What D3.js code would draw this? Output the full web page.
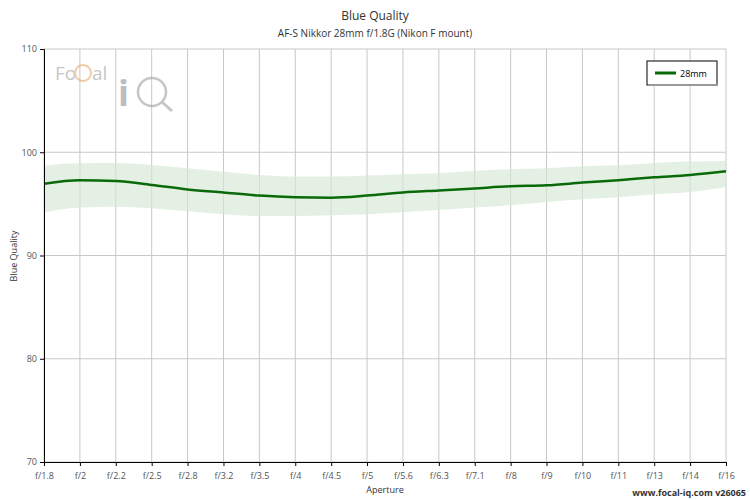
<!DOCTYPE html>
<html><head><meta charset="utf-8">
<script src="https://cdn.jsdelivr.net/npm/d3@7"></script>
<style>body{margin:0;background:#fff;font-family:"Open Sans",sans-serif}</style>
</head><body><svg id="c" width="750" height="500"></svg>
<script>
const apertures=["f/1.8","f/2","f/2.2","f/2.5","f/2.8","f/3.2","f/3.5","f/4","f/4.5","f/5","f/5.6","f/6.3","f/7.1","f/8","f/9","f/10","f/11","f/13","f/14","f/16"];
const quality=[96.96,97.29,97.22,96.83,96.4,96.1,95.8,95.64,95.6,95.8,96.1,96.3,96.5,96.7,96.8,97.06,97.3,97.57,97.8,98.16];
const upper=[98.7,98.93,98.96,98.77,98.45,98.1,97.8,97.64,97.64,97.74,97.87,97.96,98.2,98.35,98.45,98.64,98.74,98.96,99.1,99.16];
const lower=[94.19,94.64,94.73,94.58,94.29,94.0,93.83,93.83,93.9,94.0,94.2,94.41,94.64,94.87,95.19,95.45,95.64,95.93,96.16,96.64];
const yTicks=[70,80,90,100,110];
const svg=d3.select("#c");
const L=44,R=726,T=49,B=462;
const x=d3.scalePoint().domain(apertures).range([L,R]);
const y=d3.scaleLinear().domain([70,110]).range([B,T]);
const g=svg.append("g");
apertures.forEach(a=>g.append("line").attr("x1",x(a)).attr("x2",x(a)).attr("y1",T).attr("y2",B).attr("stroke","#c8c8c8"));
yTicks.forEach(t=>g.append("line").attr("x1",L).attr("x2",R).attr("y1",y(t)).attr("y2",y(t)).attr("stroke","#c8c8c8"));
// watermark
const wm=svg.append("g").attr("opacity",0.55);
wm.append("text").attr("x",55).attr("y",80).attr("font-size",19).attr("fill","#999").text("Fo");
wm.append("circle").attr("cx",83).attr("cy",73).attr("r",8).attr("fill","none").attr("stroke","#e8a060").attr("stroke-width",2);
wm.append("text").attr("x",92).attr("y",80).attr("font-size",19).attr("fill","#999").text("al");
wm.append("text").attr("x",118).attr("y",106).attr("font-size",36).attr("font-weight","bold").attr("fill","#888").text("i");
wm.append("circle").attr("cx",152).attr("cy",92).attr("r",14).attr("fill","none").attr("stroke","#999").attr("stroke-width",2.5);
wm.append("line").attr("x1",162).attr("y1",102).attr("x2",172).attr("y2",111).attr("stroke","#999").attr("stroke-width",3);
const idx=apertures.map((a,i)=>i);
svg.append("path").datum(idx).attr("fill","#d5e8d5").attr("opacity",0.65)
 .attr("d",d3.area().x(i=>x(apertures[i])).y0(i=>y(lower[i])).y1(i=>y(upper[i])).curve(d3.curveMonotoneX));
svg.append("path").datum(idx).attr("fill","none").attr("stroke","#0a6a0a").attr("stroke-width",2.5)
 .attr("d",d3.line().x(i=>x(apertures[i])).y(i=>y(quality[i])).curve(d3.curveMonotoneX));
// axes
const xa=svg.append("g").attr("transform",`translate(0,${B})`).call(d3.axisBottom(x).tickSize(4));
const ya=svg.append("g").attr("transform",`translate(${L},0)`).call(d3.axisLeft(y).tickValues(yTicks).tickSize(4));
[xa,ya].forEach(a=>{a.selectAll("text").attr("font-size",9).attr("fill","#555").attr("font-family","Open Sans");a.select(".domain").attr("stroke","#000");a.selectAll(".tick line").attr("stroke","#000");});
xa.selectAll("text").attr("dy","1.1em");
svg.append("text").attr("x",375).attr("y",20).attr("text-anchor","middle").attr("font-size",12).attr("fill","#333").text("Blue Quality");
svg.append("text").attr("x",375).attr("y",37).attr("text-anchor","middle").attr("font-size",10).attr("fill","#333").text("AF-S Nikkor 28mm f/1.8G (Nikon F mount)");
svg.append("text").attr("x",385).attr("y",493).attr("text-anchor","middle").attr("font-size",9).attr("fill","#333").text("Aperture");
svg.append("text").attr("transform","translate(17,256) rotate(-90)").attr("text-anchor","middle").attr("font-size",9).attr("fill","#333").text("Blue Quality");
svg.append("text").attr("x",746).attr("y",496).attr("text-anchor","end").attr("font-size",9).attr("font-weight","bold").attr("fill","#333").text("www.focal-iq.com  v26065");
// legend
const lg=svg.append("g");
lg.append("rect").attr("x",647).attr("y",61).attr("width",70).attr("height",24).attr("fill","#fff").attr("stroke","#000");
lg.append("rect").attr("x",648).attr("y",84).attr("width",70).attr("height",2).attr("fill","#999");
lg.append("line").attr("x1",655).attr("x2",676).attr("y1",73).attr("y2",73).attr("stroke","#0a6a0a").attr("stroke-width",3);
lg.append("text").attr("x",680).attr("y",76.5).attr("font-size",9).attr("fill","#000").text("28mm");
</script></body></html>
